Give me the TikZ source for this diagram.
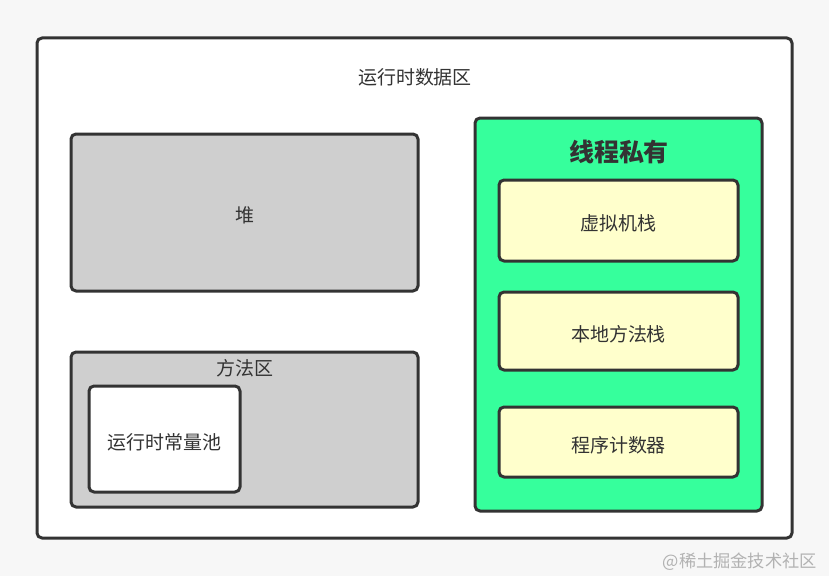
\documentclass[tikz,border=0pt]{standalone}
\usepackage{fontspec}
\usepackage{xcolor}
\usepackage{tikz}
\usetikzlibrary{positioning}
\newfontfamily\cjk{Noto Sans CJK SC}
\definecolor{edge}{HTML}{333333}
\definecolor{heapgray}{HTML}{CFCFCF}
\definecolor{privgreen}{HTML}{36FF9C}
\definecolor{stackyellow}{HTML}{FFFFCC}
\tikzset{
  area/.style={draw=edge, line width=0.06cm, rounded corners=0.1cm, inner sep=0pt, text height=11.6pt, text depth=0pt, font=\cjk\fontsize{10.8}{13}\selectfont, text=edge},
  heapbox/.style={area, fill=heapgray},
  stackbox/.style={area, fill=stackyellow, minimum width=4.78cm},
  every picture/.style={line cap=round, line join=round}
}
\begin{document}
\begin{tikzpicture}
  \fill[white!97!black] (0,0) rectangle (16.58,-11.52);
  \useasboundingbox (0,0) rectangle (16.58,-11.52);
  \node[area, fill=white, minimum width=15.1cm, minimum height=10cm] (rtda) at (8.29,-5.76) {};
  \node[font=\cjk\fontsize{10.8}{13}\selectfont, text=edge] (rtdatitle) at (8.3,-1.54) {运行时数据区};
  \node[heapbox, minimum width=6.94cm, minimum height=3.14cm] (heap) at (4.89,-4.25) {堆};
  \node[heapbox, minimum width=6.94cm, minimum height=3.10cm] (method) at (4.89,-8.59) {};
  \node[font=\cjk\fontsize{10.8}{13}\selectfont, text=edge] (methodtitle) at (4.9,-7.36) {方法区};
  \node[area, fill=white, minimum width=3.02cm, minimum height=2.12cm] (pool) at (3.29,-8.78) {运行时常量池};
  \node[area, fill=privgreen, minimum width=5.74cm, minimum height=7.86cm] (private) at (12.37,-6.29) {};
  \node[font=\cjk\bfseries\fontsize{14.2}{17}\selectfont, text=edge] (privtitle) at (12.38,-3.04) {线程私有};
  \node[stackbox, minimum height=1.62cm] (vmstack) at (12.37,-4.41) {虚拟机栈};
  \node[stackbox, minimum height=1.56cm] (nativestack) at (12.37,-6.62) {本地方法栈};
  \node[stackbox, minimum height=1.40cm] (pc) at (12.37,-8.84) {程序计数器};
  \node[anchor=east, font=\cjk\fontsize{9.8}{12}\selectfont, text=black!30] (mark) at (16.46,-11.24) {@稀土掘金技术社区};
\end{tikzpicture}
\end{document}
